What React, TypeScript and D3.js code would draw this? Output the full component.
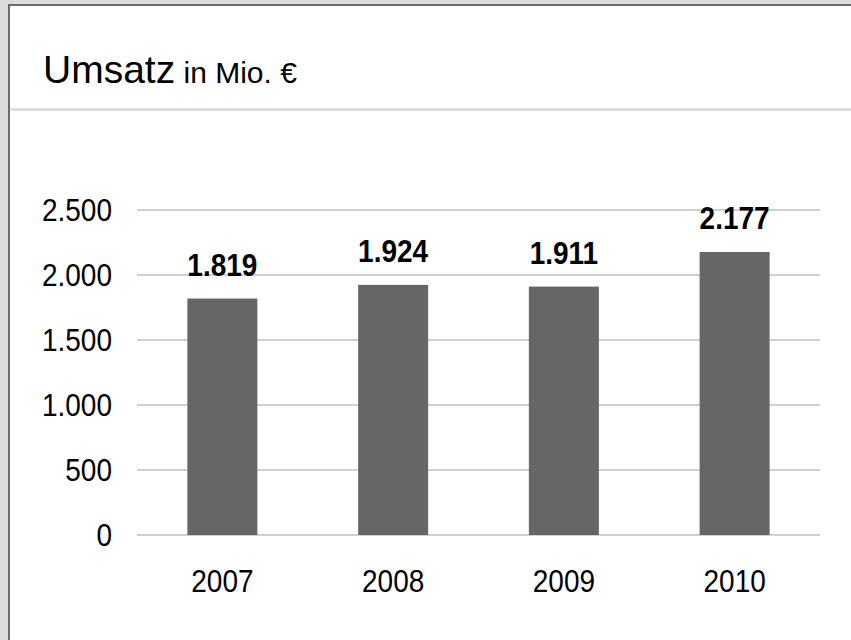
import React from "react";
import * as d3 from "d3";

const years = ["2007", "2008", "2009", "2010"];
const umsatz = [1819, 1924, 1911, 2177];
const yTicks = [0, 500, 1000, 1500, 2000, 2500];

const W = 851;
const H = 640;
const FONT = "Liberation Sans, Arial, sans-serif";
const STRETCH = 1.09; // the numbers in the reference are a bit taller than wide

const fmt = (v: number) => d3.format(",")(v).replace(/,/g, ".");

// text placed at (x, y) and stretched vertically around its baseline
function Label({ x, y, anchor, bold, dy, children }: any) {
  return (
    <g transform={`translate(${x},${y}) scale(1,${STRETCH})`}>
      <text
        dy={dy}
        textAnchor={anchor}
        fontFamily={FONT}
        fontSize={28}
        fontWeight={bold ? "bold" : "normal"}
        fill="#000"
      >
        {children}
      </text>
    </g>
  );
}

export default function App() {
  const x = d3
    .scaleBand<string>()
    .domain(years)
    .range([137, 820])
    .paddingInner(0.59)
    .paddingOuter(0.295);

  const y = d3.scaleLinear().domain([0, 2500]).range([535, 210]);

  return (
    <div style={{ position: "absolute", left: 0, top: 0, width: W, height: H }}>
      <svg width={W} height={H} style={{ display: "block" }}>
        {/* frame */}
        <rect x={0} y={0} width={W} height={H} fill="#dcdcdc" />
        <rect x={9} y={5} width={W - 9} height={H - 5} fill="#ffffff" />
        <line x1={9} x2={W} y1={5} y2={5} stroke="#6a6a6a" strokeWidth={2} />
        <line x1={9} x2={9} y1={4} y2={H} stroke="#6a6a6a" strokeWidth={2} />

        {/* title */}
        <text x={43} y={83} fontFamily={FONT} fill="#000">
          <tspan fontSize={39}>Umsatz</tspan>
          <tspan fontSize={30}> in Mio. €</tspan>
        </text>
        <line x1={11} x2={W} y1={109.5} y2={109.5} stroke="#dcdcdc" strokeWidth={3} />

        {/* grid + y labels */}
        {yTicks.map((t) => (
          <g key={t}>
            <line
              x1={137}
              x2={820}
              y1={y(t)}
              y2={y(t)}
              stroke="#c0c0c0"
              strokeWidth={1.5}
            />
            <Label x={112} y={y(t) + 11} anchor="end">
              {fmt(t)}
            </Label>
          </g>
        ))}

        {/* bars */}
        {years.map((yr, i) => {
          const cx = (x(yr) as number) + x.bandwidth() / 2;
          return (
            <g key={yr}>
              <rect
                x={x(yr)}
                y={y(umsatz[i])}
                width={x.bandwidth()}
                height={y(0) - y(umsatz[i])}
                fill="#666666"
              />
              <Label x={cx} y={y(umsatz[i]) - 23} anchor="middle" bold>
                {fmt(umsatz[i])}
              </Label>
              <Label x={cx} y={592} anchor="middle">
                {yr}
              </Label>
            </g>
          );
        })}
      </svg>
    </div>
  );
}
